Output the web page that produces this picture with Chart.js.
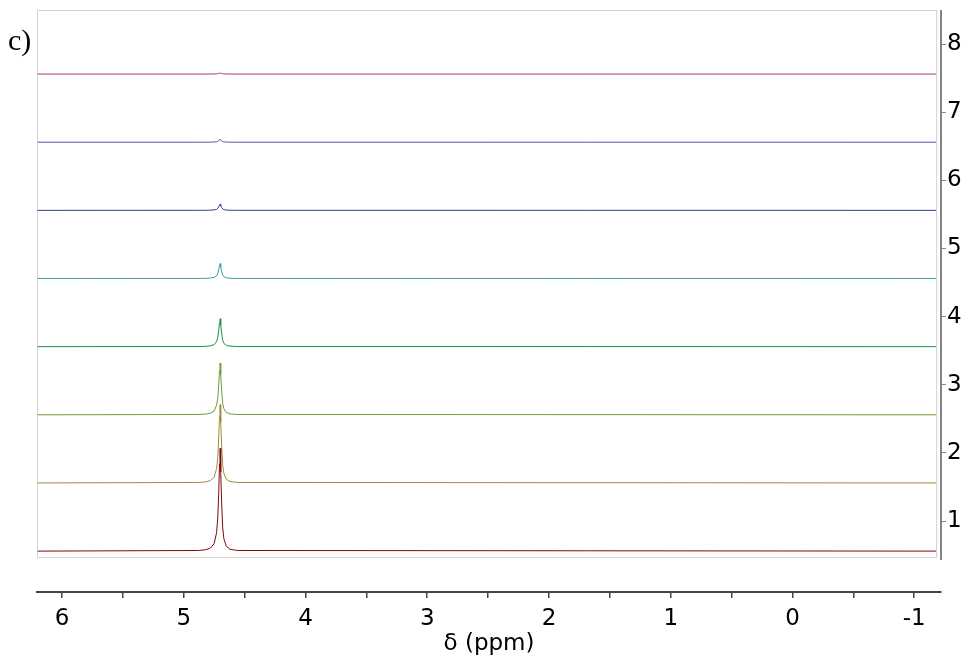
<!DOCTYPE html>
<html>
<head>
<meta charset="utf-8">
<script src="https://cdn.jsdelivr.net/npm/chart.js@4.4.0/dist/chart.umd.min.js"></script>
<style>
  html, body { margin: 0; padding: 0; background: #fff; }
  #wrap { position: relative; width: 975px; height: 666px; }
  #panel { position: absolute; left: 8px; top: 25px; font: 30px 'Liberation Serif', serif; line-height: 1; color: #000; }
</style>
</head>
<body>
<div id="wrap">
  <canvas id="nmr" width="975" height="666"></canvas>
  <div id="panel">c)</div>
</div>
<script>
// chemical shift sampling (ppm), dense around the HDO line
const ppm = [6.2, 4.88, 4.82, 4.78, 4.75, 4.73, 4.72, 4.712, 4.706, 4.702, 4.70,
             4.698, 4.694, 4.688, 4.68, 4.67, 4.65, 4.62, 4.56, -1.18];

// intensity of each spectrum above its own baseline, bottom trace first
const spec1 = [0, 0.009, 0.02, 0.045, 0.11, 0.27, 0.50, 0.87, 1.28, 1.48, 1.51, 1.46, 1.16, 0.69, 0.35, 0.18, 0.07, 0.028, 0.009, 0];
const spec2 = [0, 0.007, 0.015, 0.035, 0.084, 0.21, 0.38, 0.67, 0.98, 1.13, 1.15, 1.12, 0.89, 0.53, 0.26, 0.14, 0.053, 0.022, 0.007, 0];
const spec3 = [0, 0.005, 0.01, 0.023, 0.055, 0.14, 0.25, 0.44, 0.65, 0.74, 0.76, 0.74, 0.59, 0.35, 0.17, 0.09, 0.035, 0.014, 0.005, 0];
const spec4 = [0, 0.002, 0.005, 0.012, 0.03, 0.074, 0.135, 0.24, 0.35, 0.40, 0.41, 0.40, 0.32, 0.19, 0.094, 0.049, 0.019, 0.008, 0.002, 0];
const spec5 = [0, 0.001, 0.003, 0.007, 0.016, 0.04, 0.073, 0.13, 0.19, 0.215, 0.22, 0.213, 0.17, 0.10, 0.05, 0.026, 0.01, 0.004, 0.001, 0];
const spec6 = [0, 0.0005, 0.001, 0.003, 0.007, 0.016, 0.03, 0.052, 0.077, 0.088, 0.09, 0.087, 0.069, 0.041, 0.021, 0.011, 0.004, 0.002, 0.0005, 0];
const spec7 = [0, 0, 0, 0.001, 0.003, 0.007, 0.013, 0.023, 0.034, 0.039, 0.04, 0.039, 0.031, 0.018, 0.009, 0.005, 0.002, 0.001, 0, 0];
const spec8 = [0, 0, 0, 0, 0.001, 0.003, 0.005, 0.009, 0.013, 0.015, 0.015, 0.015, 0.012, 0.007, 0.003, 0.002, 0.001, 0, 0, 0];

const spectra = [spec1, spec2, spec3, spec4, spec5, spec6, spec7, spec8];
const lineColors = ['#7d0a0a', '#a08a3c', '#6e9c38', '#1a9040', '#3a9e9e', '#2c3e8e', '#6a4aa8', '#a3358a'];

// each trace sits on its own baseline, stacked one unit apart
const datasets = spectra.map((vals, i) => ({
  label: 'spectrum ' + (i + 1),
  data: ppm.map((p, j) => ({ x: p, y: i + 0.56 + vals[j] })),
  borderColor: lineColors[i],
  borderWidth: 1,
  pointRadius: 0,
  tension: 0,
  fill: false
}));

const framePlugin = {
  id: 'frame',
  beforeDatasetsDraw(chart) {
    const { ctx, chartArea, scales: { x, y } } = chart;
    const right = x.getPixelForValue(-1.18);
    const bottom = y.getPixelForValue(0.474);
    ctx.save();
    ctx.strokeStyle = '#d2d2d2';
    ctx.lineWidth = 1;
    ctx.strokeRect(chartArea.left + 0.5, chartArea.top + 0.5, right - chartArea.left, bottom - chartArea.top);
    ctx.restore();
  },
  afterDraw(chart) {
    // offset axis line on the right
    const { ctx, chartArea, scales: { y } } = chart;
    ctx.save();
    ctx.strokeStyle = '#858585';
    ctx.lineWidth = 2;
    ctx.beginPath();
    ctx.moveTo(chartArea.right, chartArea.top);
    ctx.lineTo(chartArea.right, y.getPixelForValue(0.43));
    ctx.stroke();
    ctx.restore();
  }
};

const tickFont = { family: 'DejaVu Sans', size: 23 };

new Chart(document.getElementById('nmr'), {
  type: 'line',
  data: { datasets },
  options: {
    responsive: false,
    animation: false,
    layout: { padding: { left: 37, top: 10, right: 0, bottom: 0 } },
    plugins: { legend: { display: false }, tooltip: { enabled: false } },
    scales: {
      x: {
        type: 'linear',
        reverse: true,
        min: -1.22,
        max: 6.205,
        afterFit(s) { s.height = 74; s.paddingLeft = 0; s.paddingRight = 0; },
        ticks: {
          stepSize: 0.5,
          includeBounds: false,
          autoSkip: false,
          maxRotation: 0,
          color: '#000',
          font: tickFont,
          padding: 7,
          callback: v => Number.isInteger(v) ? String(v) : ''
        },
        grid: { drawOnChartArea: false, tickLength: 6, color: '#444', lineWidth: 1.5 },
        border: { display: true, color: '#444', width: 2 },
        title: {
          display: true,
          text: 'δ (ppm)',
          color: '#000',
          font: tickFont,
          padding: { top: 0, bottom: 8 }
        }
      },
      y: {
        type: 'linear',
        position: 'right',
        min: -0.04,
        max: 8.5,
        afterFit(s) { s.width = 34; s.paddingTop = 0; s.paddingBottom = 0; },
        afterBuildTicks(s) { s.ticks = s.ticks.filter(t => t.value >= 1); },
        ticks: { stepSize: 1, includeBounds: false, color: '#000', font: tickFont, padding: 1 },
        grid: { drawOnChartArea: false, tickLength: 5, color: '#888', lineWidth: 1 },
        border: { display: false }
      }
    }
  },
  plugins: [framePlugin]
});
</script>
</body>
</html>
